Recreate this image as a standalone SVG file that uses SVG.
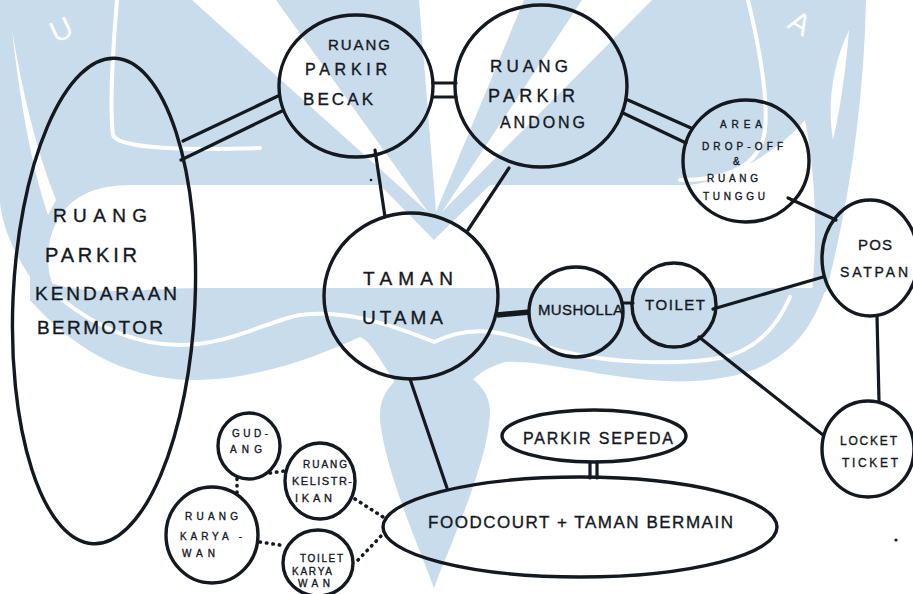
<svg xmlns="http://www.w3.org/2000/svg" width="913" height="594" viewBox="0 0 913 594">
<style>
.n{fill:none;stroke:#14181f;stroke-width:3.4}
.c{fill:none;stroke:#14181f;stroke-width:3.2;stroke-linecap:round}
.d{fill:none;stroke:#14181f;stroke-width:3.6;stroke-linecap:round;stroke-dasharray:0.5 6}
.t{font-family:"Liberation Sans",Arial,sans-serif;fill:#15181f;stroke:#15181f;stroke-width:0.35}
.wm{fill:#c8dcec}
.wl{fill:none;stroke:#ffffff;stroke-width:4;stroke-linecap:round}
.wt{font-family:"Liberation Sans",Arial,sans-serif;fill:#ffffff}
</style>
<rect width="913" height="594" fill="#ffffff"/>
<g id="watermark">
<path class="wm" d="M0,0 H866 C864,100 850,200 826,292 L812,292 C818,230 815,170 805,120 C780,150 730,180 690,185 L490,185 L434,240 L380,185 L130,185 C90,185 60,200 50,240 C45,265 50,285 60,295 L40,290 C15,260 0,220 0,200 Z"/>
<path class="wm" d="M30,275 C80,300 140,288 200,288 L826,288 C815,320 800,345 770,362 C740,380 690,384 650,380 C590,375 540,360 505,362 C480,370 470,380 468,390 L400,390 C380,360 370,340 360,337 C320,355 260,380 190,380 C120,378 70,345 30,300 Z"/>
<path class="wm" d="M434,588 C418,545 385,470 380,420 C378,390 400,368 434,368 C470,368 492,390 490,415 C487,465 452,540 434,588 Z"/>
<path fill="#ffffff" d="M192,0 L276,0 L428,212 Z M419,0 L524,0 L436,212 Z M582,0 L652,0 L442,212 Z M12,30 C20,100 30,160 48,215 L56,200 C36,150 22,90 12,30 Z M849,30 C845,80 838,120 833,140 C828,110 830,70 849,30 Z"/>
<path class="wl" d="M117,0 C112,60 110,110 113,135 C118,150 200,150 260,148"/>
<path class="wl" d="M748,0 C760,50 768,100 765,130 C760,170 720,180 680,180"/>
<path class="wl" d="M60,298 C100,330 140,345 180,345 C230,345 270,320 300,315 C340,310 380,320 434,342 C470,325 500,330 540,345 C600,365 680,365 720,358 C760,350 780,320 790,297"/>
<text class="wt" x="50" y="40" font-size="30" transform="rotate(-25 61 29)">U</text>
<text class="wt" x="790" y="34" font-size="30" transform="rotate(30 801 23)">A</text>
</g>
<g id="connectors">
<line class="c" x1="183" y1="141" x2="278" y2="96"/>
<line class="c" x1="181" y1="160" x2="282" y2="111"/>
<line class="c" x1="433" y1="83" x2="456" y2="83"/>
<line class="c" x1="433" y1="97" x2="456" y2="97"/>
<line class="c" x1="375" y1="150" x2="385" y2="217"/>
<line class="c" x1="509" y1="168" x2="468" y2="230"/>
<line class="c" x1="628" y1="100" x2="691" y2="128"/>
<line class="c" x1="623" y1="113" x2="686" y2="143"/>
<line class="c" x1="788" y1="198" x2="836" y2="220"/>
<line class="c" x1="713" y1="309" x2="823" y2="277"/>
<line class="c" x1="877" y1="316" x2="879" y2="401"/>
<line class="c" x1="699" y1="337" x2="823" y2="435"/>
<line fill="none" stroke="#14181f" stroke-width="5.5" x1="497" y1="315" x2="530" y2="312"/>
<line class="c" x1="622" y1="303" x2="633" y2="303"/>
<line class="c" x1="410" y1="379" x2="447" y2="488"/>
<line class="c" x1="590" y1="462" x2="590" y2="478"/>
<line class="c" x1="597" y1="462" x2="597" y2="478"/>
<line class="d" x1="270" y1="473" x2="284" y2="471"/>
<line class="d" x1="237" y1="479" x2="237" y2="494"/>
<line class="d" x1="355" y1="499" x2="383" y2="517"/>
<line class="d" x1="260" y1="542" x2="280" y2="545"/>
<line class="d" x1="358" y1="560" x2="382" y2="535"/>
<circle cx="371" cy="180" r="1.3" fill="#14181f"/>
<circle cx="896" cy="540" r="1.6" fill="#14181f"/>
</g>
<g id="n-bermotor">
<ellipse class="n" cx="104" cy="301" rx="91" ry="243" transform="rotate(2.6 104 301)"/>
<text class="t" x="53" y="222" font-size="19" textLength="94">RUANG</text>
<text class="t" x="45" y="262" font-size="20" textLength="92">PARKIR</text>
<text class="t" x="35" y="300" font-size="19" textLength="142">KENDARAAN</text>
<text class="t" x="37" y="334" font-size="19" textLength="126">BERMOTOR</text>
</g>
<g id="n-becak">
<ellipse class="n" cx="356" cy="86" rx="77" ry="71"/>
<text class="t" x="328" y="50" font-size="15" textLength="62">RUANG</text>
<text class="t" x="305" y="75" font-size="16" textLength="82">PARKIR</text>
<text class="t" x="303" y="105" font-size="17" textLength="70">BECAK</text>
</g>
<g id="n-andong">
<ellipse class="n" cx="541" cy="86" rx="86" ry="81"/>
<text class="t" x="490" y="72" font-size="17" textLength="78">RUANG</text>
<text class="t" x="488" y="102" font-size="18" textLength="87">PARKIR</text>
<text class="t" x="500" y="128" font-size="16" textLength="85">ANDONG</text>
</g>
<g id="n-dropoff">
<ellipse class="n" cx="746" cy="161" rx="63" ry="61"/>
<text class="t" x="720" y="128" font-size="10" textLength="42">AREA</text>
<text class="t" x="702" y="150" font-size="10" textLength="81">DROP-OFF</text>
<text class="t" x="733" y="165" font-size="10">&amp;</text>
<text class="t" x="707" y="182" font-size="10" textLength="51">RUANG</text>
<text class="t" x="703" y="200" font-size="10" textLength="62">TUNGGU</text>
</g>
<g id="n-satpan">
<ellipse class="n" cx="870" cy="258" rx="48" ry="58"/>
<text class="t" x="858" y="250" font-size="15" textLength="34">POS</text>
<text class="t" x="840" y="277" font-size="14" textLength="68">SATPAN</text>
</g>
<g id="n-taman">
<ellipse class="n" cx="411" cy="296" rx="87" ry="83"/>
<text class="t" x="363" y="285" font-size="19" textLength="90">TAMAN</text>
<text class="t" x="362" y="324" font-size="19" textLength="81">UTAMA</text>
</g>
<g id="n-musholla">
<ellipse class="n" cx="576" cy="312" rx="47" ry="45"/>
<text class="t" x="538" y="315" font-size="15" textLength="85">MUSHOLLA</text>
</g>
<g id="n-toilet">
<ellipse class="n" cx="674" cy="305" rx="42" ry="42"/>
<text class="t" x="645" y="310" font-size="15" textLength="60">TOILET</text>
</g>
<g id="n-locket">
<ellipse class="n" cx="868" cy="449" rx="46" ry="48"/>
<text class="t" x="840" y="445" font-size="12" textLength="57">LOCKET</text>
<text class="t" x="842" y="467" font-size="12" textLength="56">TICKET</text>
</g>
<g id="n-sepeda">
<ellipse class="n" cx="594" cy="436" rx="92" ry="26"/>
<text class="t" x="523" y="444" font-size="16" textLength="150">PARKIR SEPEDA</text>
</g>
<g id="n-foodcourt">
<ellipse class="n" cx="580" cy="527" rx="197" ry="50"/>
<text class="t" x="428" y="528" font-size="17" textLength="305">FOODCOURT + TAMAN BERMAIN</text>
</g>
<g id="n-gudang">
<ellipse class="n" cx="249" cy="446" rx="31" ry="33"/>
<text class="t" x="232" y="437" font-size="10" textLength="36">GUD-</text>
<text class="t" x="230" y="453" font-size="10" textLength="32">ANG</text>
</g>
<g id="n-kelistrikan">
<ellipse class="n" cx="320" cy="481" rx="35" ry="38"/>
<text class="t" x="303" y="468" font-size="10" textLength="44">RUANG</text>
<text class="t" x="292" y="485" font-size="11" textLength="60">KELISTR-</text>
<text class="t" x="295" y="502" font-size="11" textLength="37">IKAN</text>
</g>
<g id="n-karyawan">
<ellipse class="n" cx="212" cy="535" rx="46" ry="48"/>
<text class="t" x="185" y="520" font-size="10" textLength="53">RUANG</text>
<text class="t" x="180" y="540" font-size="10" textLength="62">KARYA -</text>
<text class="t" x="182" y="557" font-size="10" textLength="33">WAN</text>
</g>
<g id="n-toiletkaryawan">
<ellipse class="n" cx="318" cy="563" rx="35" ry="33"/>
<text class="t" x="300" y="562" font-size="10" textLength="43">TOILET</text>
<text class="t" x="292" y="575" font-size="10" textLength="40">KARYA</text>
<text class="t" x="298" y="587" font-size="10" textLength="32">WAN</text>
</g>
</svg>
